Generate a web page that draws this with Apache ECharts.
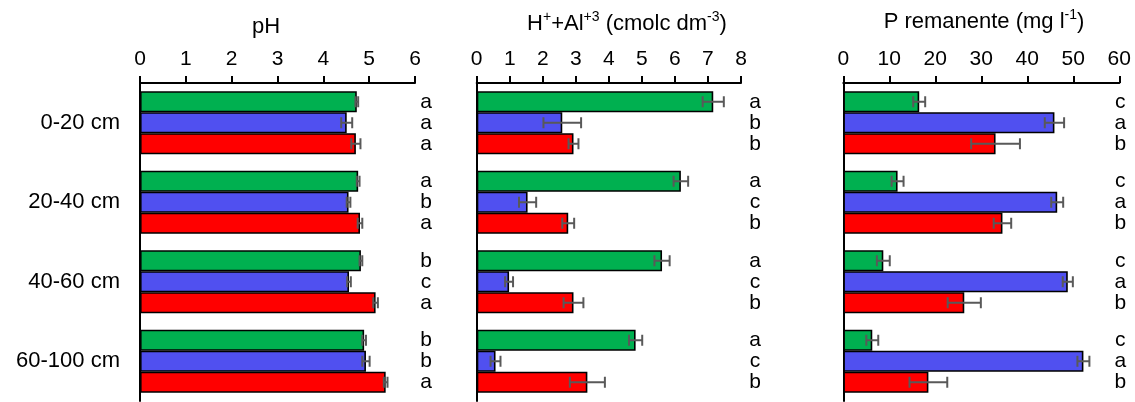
<!DOCTYPE html>
<html>
<head>
<meta charset="utf-8">
<script src="https://cdn.jsdelivr.net/npm/echarts@6/dist/echarts.min.js"></script>
<style>
html,body{margin:0;padding:0;background:#fff;}
#c{width:1135px;height:402px;}
</style>
</head>
<body>
<div id="c"></div>
<script>
// ---- data ----
const categories = ['0-20 cm', '20-40 cm', '40-60 cm', '60-100 cm'];

const phGreen = [4.73, 4.76, 4.82, 4.89];
const phBlue  = [4.51, 4.55, 4.56, 4.93];
const phRed   = [4.71, 4.80, 5.14, 5.36];
const phGreenErr = [0.03, 0.03, 0.03, 0.04];
const phBlueErr  = [0.12, 0.04, 0.04, 0.08];
const phRedErr   = [0.10, 0.05, 0.05, 0.04];
const phGreenLet = ['a', 'a', 'b', 'b'];
const phBlueLet  = ['a', 'b', 'c', 'b'];
const phRedLet   = ['a', 'a', 'a', 'a'];

const halGreen = [7.16, 6.18, 5.61, 4.81];
const halBlue  = [2.59, 1.54, 0.98, 0.57];
const halRed   = [2.93, 2.77, 2.93, 3.35];
const halGreenErr = [0.32, 0.22, 0.23, 0.20];
const halBlueErr  = [0.57, 0.26, 0.12, 0.15];
const halRedErr   = [0.15, 0.18, 0.30, 0.53];
const halGreenLet = ['a', 'a', 'a', 'a'];
const halBlueLet  = ['b', 'c', 'c', 'c'];
const halRedLet   = ['b', 'b', 'b', 'b'];

const pGreen = [16.5, 11.8, 8.7, 6.3];
const pBlue  = [45.9, 46.5, 48.8, 52.2];
const pRed   = [33.1, 34.6, 26.3, 18.5];
const pGreenErr = [1.3, 1.3, 1.4, 1.3];
const pBlueErr  = [2.1, 1.3, 1.1, 1.3];
const pRedErr   = [5.3, 1.9, 3.6, 4.1];
const pGreenLet = ['c', 'c', 'c', 'c'];
const pBlueLet  = ['a', 'a', 'a', 'a'];
const pRedLet   = ['b', 'b', 'b', 'b'];

const axisMax = [6, 8, 60];
const axisInterval = [1, 1, 10];

// ---- styling / layout ----
const COLORS = ['#00B050', '#5050F0', '#FF0000'];
const BAR_W = 21;
const FONT = '"Liberation Sans", Arial, sans-serif';
const grids = [
  { left: 140, width: 275, top: 83, height: 318 },
  { left: 476.7, width: 264.3, top: 83, height: 318 },
  { left: 843.3, width: 276, top: 83, height: 318 }
];
const letterOffset = [11, 14, 1];

const panels = [
  { vals: [phGreen, phBlue, phRed], errs: [phGreenErr, phBlueErr, phRedErr], lets: [phGreenLet, phBlueLet, phRedLet] },
  { vals: [halGreen, halBlue, halRed], errs: [halGreenErr, halBlueErr, halRedErr], lets: [halGreenLet, halBlueLet, halRedLet] },
  { vals: [pGreen, pBlue, pRed], errs: [pGreenErr, pBlueErr, pRedErr], lets: [pGreenLet, pBlueLet, pRedLet] }
];

const xAxes = [], yAxes = [], series = [];
panels.forEach((p, gi) => {
  xAxes.push({
    type: 'value', gridIndex: gi, position: 'top', min: 0, max: axisMax[gi], interval: axisInterval[gi],
    axisLine: { show: true, lineStyle: { color: '#000', width: 2 } },
    axisTick: { show: true, length: 7, lineStyle: { color: '#000', width: 2 } },
    axisLabel: { fontSize: 21, color: '#000', margin: 13, fontFamily: FONT },
    splitLine: { show: false }
  });
  yAxes.push({
    type: 'category', gridIndex: gi, data: categories, inverse: true,
    axisLine: { show: true, lineStyle: { color: '#000', width: 2 } },
    axisTick: { show: false },
    axisLabel: { show: gi === 0, fontSize: 22, color: '#000', margin: 20, fontFamily: FONT }
  });
  for (let k = 0; k < 3; k++) {
    series.push({
      type: 'bar', xAxisIndex: gi, yAxisIndex: gi,
      data: p.vals[k], barWidth: BAR_W, barGap: '0%',
      itemStyle: { color: COLORS[k], borderColor: '#000', borderWidth: 1.6 },
      silent: true, animation: false
    });
  }
  for (let k = 0; k < 3; k++) {
    const errs = p.errs[k], lets = p.lets[k];
    series.push({
      type: 'custom', xAxisIndex: gi, yAxisIndex: gi, z: 5, animation: false, silent: true,
      data: p.vals[k].map((v, i) => [v, i, errs[i]]),
      encode: { x: 0, y: 1 },
      renderItem: function (params, api) {
        const v = api.value(0), c = api.value(1), e = api.value(2);
        const off = (k - 1) * BAR_W;
        const y = api.coord([v, c])[1] + off;
        const x1 = api.coord([v - e, c])[0];
        const x2 = api.coord([v + e, c])[0];
        const cap = 5.5;
        const xr = api.coord([axisMax[gi], c])[0] + letterOffset[gi];
        const st = { stroke: '#595959', lineWidth: 2 };
        return {
          type: 'group',
          children: [
            { type: 'line', shape: { x1: x1, y1: y, x2: x2, y2: y }, style: st },
            { type: 'line', shape: { x1: x1, y1: y - cap, x2: x1, y2: y + cap }, style: st },
            { type: 'line', shape: { x1: x2, y1: y - cap, x2: x2, y2: y + cap }, style: st },
            { type: 'text', x: xr, y: y, style: { text: lets[params.dataIndex], fill: '#000', font: '21px ' + FONT, textAlign: 'center', textVerticalAlign: 'middle' } }
          ]
        };
      }
    });
  }
});

const richStyles = {
  n: { fontSize: 22, color: '#000', fontFamily: FONT, fontWeight: 'normal', lineHeight: 28 },
  s: { fontSize: 14, color: '#000', fontFamily: FONT, fontWeight: 'normal', verticalAlign: 'top', lineHeight: 16 }
};
const titles = [
  { top: 8, left: 261, textAlign: 'center', text: 'pH', textStyle: { fontSize: 22, fontWeight: 'normal', color: '#000', fontFamily: FONT, lineHeight: 28 } },
  { top: 5, left: 622, textAlign: 'center', text: '{n|H}{s|+}{n|+Al}{s|+3}{n| (cmolc dm}{s|-3}{n|)}', textStyle: { fontWeight: 'normal', rich: richStyles } },
  { top: 3, left: 979, textAlign: 'center', text: '{n|P remanente (mg l}{s|-1}{n|)}', textStyle: { fontWeight: 'normal', rich: richStyles } }
];

const chart = echarts.init(document.getElementById('c'), null, { renderer: 'canvas' });
chart.setOption({
  backgroundColor: '#fff',
  animation: false,
  title: titles,
  grid: grids,
  xAxis: xAxes,
  yAxis: yAxes,
  series: series
});
</script>
</body>
</html>
